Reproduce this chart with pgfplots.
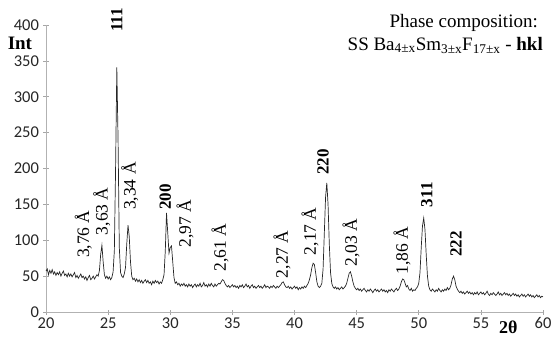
\documentclass[border=0pt]{standalone}
\usepackage{fontspec}
\setmainfont{Liberation Serif}
\newfontfamily\carlito{Carlito}
\usepackage{pgfplots}
\pgfplotsset{compat=1.18}
\begin{document}
\begin{tikzpicture}
\begin{axis}[
  at={(0,0)}, anchor=south west,
  scale only axis, width=497pt, height=287pt,
  xmin=20, xmax=60, ymin=0, ymax=400,
  axis lines=left,
  axis line style={gray!60, line width=0.6pt, -},
  xtick={20,25,...,60}, ytick={0,50,...,400},
  tick style={gray!70, line width=0.6pt},
  tick align=center, major tick length=5pt,
  /pgf/number format/assume math mode=true,
  ticklabel style={font=\carlito\fontsize{16.5}{16.5}\selectfont, black!85},
  xticklabel style={yshift=-2pt, inner sep=1pt},
  yticklabel style={xshift=-1pt},
  clip=false,
]
\addplot[black!85, line width=0.7pt] coordinates {
(20.0,57) (20.1,60) (20.2,52) (20.3,58) (20.4,54) (20.5,59) (20.6,53) (20.7,56) (20.8,51) (20.9,55)
(21.0,52) (21.1,56) (21.2,50) (21.3,54) (21.4,57) (21.5,51) (21.6,53) (21.7,49) (21.8,54) (21.9,50)
(22.0,53) (22.1,49) (22.2,52) (22.3,55) (22.4,48) (22.5,51) (22.6,47) (22.7,50) (22.8,53) (22.9,48)
(23.0,50) (23.1,46) (23.2,49) (23.3,44) (23.4,48) (23.5,51) (23.6,45) (23.7,47) (23.8,50) (23.9,46)
(24.0,49) (24.1,52) (24.2,50) (24.3,58) (24.4,80) (24.5,93) (24.6,70) (24.7,52) (24.8,47) (24.9,50)
(25.0,46) (25.1,49) (25.2,45) (25.3,48) (25.4,56) (25.5,85) (25.6,200) (25.7,341) (25.8,240) (25.9,90)
(26.0,55) (26.1,50) (26.2,48) (26.3,53) (26.4,62) (26.5,95) (26.6,121) (26.7,105) (26.8,70) (26.9,50)
(27.0,45) (27.1,47) (27.2,43) (27.3,46) (27.4,42) (27.5,45) (27.6,41) (27.7,44) (27.8,40) (27.9,43)
(28.0,45) (28.1,41) (28.2,44) (28.3,40) (28.4,42) (28.5,38) (28.6,43) (28.7,40) (28.8,44) (28.9,41)
(29.0,43) (29.1,39) (29.2,42) (29.3,40) (29.4,45) (29.5,52) (29.6,85) (29.7,138) (29.8,110) (29.9,82)
(30.0,90) (30.1,92) (30.2,70) (30.3,48) (30.4,40) (30.5,42) (30.6,38) (30.7,40) (30.8,36) (30.9,39)
(31.0,37) (31.1,40) (31.2,36) (31.3,38) (31.4,35) (31.5,39) (31.6,36) (31.7,38) (31.8,34) (31.9,37)
(32.0,39) (32.1,35) (32.2,38) (32.3,36) (32.4,40) (32.5,35) (32.6,37) (32.7,41) (32.8,36) (32.9,38)
(33.0,35) (33.1,39) (33.2,36) (33.3,40) (33.4,37) (33.5,35) (33.6,39) (33.7,36) (33.8,38) (33.9,40)
(34.0,39) (34.1,42) (34.2,45) (34.3,44) (34.4,40) (34.5,37) (34.6,35) (34.7,37) (34.8,34) (34.9,36)
(35.0,38) (35.1,35) (35.2,37) (35.3,34) (35.4,36) (35.5,33) (35.6,37) (35.7,35) (35.8,38) (35.9,34)
(36.0,36) (36.1,39) (36.2,35) (36.3,37) (36.4,33) (36.5,36) (36.6,38) (36.7,34) (36.8,36) (36.9,33)
(37.0,35) (37.1,37) (37.2,34) (37.3,36) (37.4,33) (37.5,35) (37.6,38) (37.7,34) (37.8,36) (37.9,35)
(38.0,33) (38.1,36) (38.2,34) (38.3,37) (38.4,35) (38.5,33) (38.6,36) (38.7,34) (38.8,36) (38.9,38)
(39.0,41) (39.1,42) (39.2,38) (39.3,35) (39.4,34) (39.5,36) (39.6,33) (39.7,35) (39.8,32) (39.9,34)
(40.0,36) (40.1,33) (40.2,35) (40.3,31) (40.4,34) (40.5,32) (40.6,35) (40.7,33) (40.8,36) (40.9,34)
(41.0,37) (41.1,40) (41.2,45) (41.3,52) (41.4,62) (41.5,68) (41.6,66) (41.7,55) (41.8,42) (41.9,36)
(42.0,34) (42.1,36) (42.2,40) (42.3,60) (42.4,110) (42.5,160) (42.6,180) (42.7,150) (42.8,95) (42.9,55)
(43.0,40) (43.1,35) (43.2,33) (43.3,35) (43.4,32) (43.5,34) (43.6,31) (43.7,33) (43.8,35) (43.9,32)
(44.0,34) (44.1,36) (44.2,40) (44.3,47) (44.4,54) (44.5,56) (44.6,50) (44.7,42) (44.8,36) (44.9,33)
(45.0,31) (45.1,33) (45.2,30) (45.3,32) (45.4,29) (45.5,31) (45.6,33) (45.7,30) (45.8,28) (45.9,31)
(46.0,29) (46.1,32) (46.2,30) (46.3,27) (46.4,30) (46.5,32) (46.6,29) (46.7,31) (46.8,28) (46.9,30)
(47.0,32) (47.1,29) (47.2,31) (47.3,28) (47.4,30) (47.5,27) (47.6,31) (47.7,29) (47.8,32) (47.9,30)
(48.0,28) (48.1,31) (48.2,33) (48.3,30) (48.4,32) (48.5,36) (48.6,42) (48.7,46) (48.8,45) (48.9,40)
(49.0,35) (49.1,37) (49.2,32) (49.3,30) (49.4,33) (49.5,29) (49.6,31) (49.7,30) (49.8,33) (49.9,35)
(50.0,40) (50.1,55) (50.2,90) (50.3,120) (50.4,131) (50.5,115) (50.6,80) (50.7,50) (50.8,36) (50.9,31)
(51.0,29) (51.1,32) (51.2,30) (51.3,28) (51.4,31) (51.5,29) (51.6,33) (51.7,30) (51.8,28) (51.9,31)
(52.0,29) (52.1,32) (52.2,30) (52.3,34) (52.4,31) (52.5,33) (52.6,38) (52.7,46) (52.8,50) (52.9,45)
(53.0,36) (53.1,32) (53.2,29) (53.3,27) (53.4,29) (53.5,26) (53.6,28) (53.7,25) (53.8,27) (53.9,29)
(54.0,26) (54.1,28) (54.2,25) (54.3,27) (54.4,24) (54.5,27) (54.6,25) (54.7,28) (54.8,24) (54.9,26)
(55.0,28) (55.1,25) (55.2,27) (55.3,24) (55.4,26) (55.5,29) (55.6,25) (55.7,23) (55.8,26) (55.9,24)
(56.0,27) (56.1,25) (56.2,23) (56.3,25) (56.4,28) (56.5,24) (56.6,26) (56.7,23) (56.8,25) (56.9,27)
(57.0,24) (57.1,26) (57.2,23) (57.3,25) (57.4,22) (57.5,24) (57.6,26) (57.7,23) (57.8,25) (57.9,22)
(58.0,24) (58.1,21) (58.2,23) (58.3,25) (58.4,22) (58.5,24) (58.6,21) (58.7,23) (58.8,25) (58.9,22)
(59.0,24) (59.1,21) (59.2,23) (59.3,20) (59.4,22) (59.5,24) (59.6,21) (59.7,23) (59.8,20) (59.9,22)
(60.0,21)
};
\begin{scope}[every node/.style={rotate=90, anchor=west, inner sep=0pt, font=\fontsize{17.5}{17.5}\selectfont}]
\node at (axis cs:23.0,75) {3,76 Å};
\node at (axis cs:24.5,107) {3,63 Å};
\node at (axis cs:26.75,142) {3,34 Å};
\node at (axis cs:31.2,90) {2,97 Å};
\node at (axis cs:34.0,56) {2,61 Å};
\node at (axis cs:39.0,47) {2,27 Å};
\node at (axis cs:41.25,79) {2,17 Å};
\node at (axis cs:44.55,63) {2,03 Å};
\node at (axis cs:48.65,52) {1,86 Å};
\node[font=\bfseries\fontsize{17}{17}\selectfont] at (axis cs:25.7,390) {111};
\node[font=\bfseries\fontsize{17}{17}\selectfont] at (axis cs:29.6,142) {200};
\node[font=\bfseries\fontsize{17}{17}\selectfont] at (axis cs:42.3,191) {220};
\node[font=\bfseries\fontsize{17}{17}\selectfont] at (axis cs:50.65,146) {311};
\node[font=\bfseries\fontsize{17}{17}\selectfont] at (axis cs:53.0,77) {222};
\end{scope}
\node[font=\bfseries\fontsize{19}{19}\selectfont, inner sep=0pt] at (axis cs:17.9,375) {Int};
\node[font=\bfseries\fontsize{18}{18}\selectfont, inner sep=0pt] at (axis cs:57.2,-21) {2θ};
\node[font=\fontsize{19}{19}\selectfont, anchor=east, inner sep=0pt] at (axis cs:59.6,403) {Phase composition:};
\node[font=\fontsize{19}{19}\selectfont, anchor=east, inner sep=0pt] at (axis cs:60.0,372) {SS Ba\textsubscript{4±x}Sm\textsubscript{3±x}F\textsubscript{17±x} - \textbf{hkl}};
\end{axis}
\pgfresetboundingbox
\path[use as bounding box] (-46pt,-25pt) rectangle (507pt,312pt);
\end{tikzpicture}
\end{document}
